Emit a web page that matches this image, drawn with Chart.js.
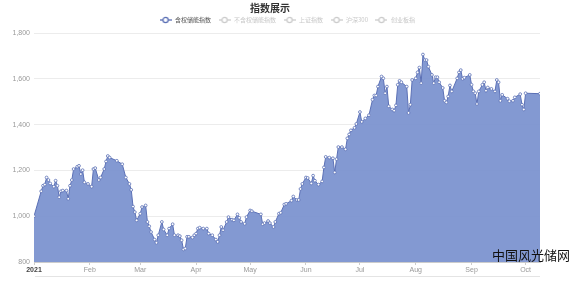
<!DOCTYPE html>
<html>
<head>
<meta charset="utf-8">
<script src="https://cdn.jsdelivr.net/npm/chart.js@4.4.1/dist/chart.umd.min.js"></script>
<style>
    html, body { margin: 0; padding: 0; background: #fff; }
    #wrap { position: relative; width: 578px; height: 283px; }
    #mark {
        position: absolute; left: 492px; top: 245px;
        font: 13px "Noto Sans CJK SC", sans-serif; color: #111;
    }
</style>
</head>
<body>
<div id="wrap">
    <canvas id="chart" width="578" height="283"></canvas>
    <div id="mark">中国风光储网</div>
</div>
<script>
const seriesNames = ["含权储能指数", "不含权储能指数", "上证指数", "沪深300", "创业板指"];

// days since 2021-01-01
const days = [
    0, 4, 5, 6, 7, 8, 9, 11, 12, 13, 14, 15, 16, 18, 19, 20, 21, 22, 24, 25,
    26, 27, 28, 30, 32, 33, 34, 36, 37, 39, 40, 41, 42, 46, 49, 51, 53, 54, 55, 56,
    57, 59, 60, 62, 63, 64, 65, 67, 68, 69, 71, 72, 74, 75, 77, 78, 80, 81, 82, 83,
    84, 85, 86, 88, 89, 90, 91, 92, 94, 96, 97, 99, 101, 102, 103, 104, 105, 107, 108, 110,
    111, 113, 114, 115, 117, 118, 120, 121, 126, 127, 128, 130, 131, 133, 134, 136, 137, 139, 140, 143,
    144, 146, 147, 148, 149, 151, 152, 154, 155, 156, 158, 160, 161, 162, 164, 166, 167, 168, 169, 171,
    173, 174, 175, 176, 178, 179, 181, 182, 184, 186, 188, 189, 190, 191, 193, 194, 195, 196, 197, 199,
    200, 201, 202, 203, 204, 207, 208, 209, 210, 212, 213, 214, 215, 216, 217, 218, 219, 221, 222, 223,
    224, 225, 227, 228, 229, 230, 231, 232, 235, 236, 237, 238, 239, 242, 243, 244, 245, 246, 247, 249,
    250, 251, 252, 254, 256, 257, 258, 259, 260, 263, 264, 266, 267, 270, 271, 272, 273, 281
];

const indexValues = [
    1000, 1109, 1133, 1138, 1169, 1158, 1143, 1129, 1155, 1133, 1083, 1109, 1112, 1112, 1076, 1133, 1158, 1206, 1216, 1220,
    1184, 1201, 1148, 1141, 1129, 1206, 1210, 1158, 1169, 1206, 1239, 1263, 1256, 1242, 1227, 1169, 1141, 1115, 1042, 1018,
    982, 1011, 1040, 1047, 975, 956, 931, 898, 884, 917, 975, 942, 917, 946, 965, 917, 917, 913, 895, 855,
    859, 910, 910, 907, 917, 924, 946, 950, 946, 946, 924, 917, 898, 888, 917, 953, 939, 975, 996, 985,
    982, 1008, 993, 975, 967, 996, 1025, 1022, 1008, 965, 970, 979, 970, 953, 975, 1011, 1015, 1051, 1054, 1068,
    1086, 1071, 1071, 1119, 1141, 1169, 1167, 1143, 1177, 1155, 1138, 1152, 1213, 1259, 1256, 1253, 1191, 1249, 1302, 1302,
    1292, 1340, 1357, 1375, 1386, 1403, 1455, 1412, 1427, 1441, 1509, 1527, 1527, 1566, 1610, 1602, 1537, 1566, 1480, 1466,
    1461, 1484, 1574, 1591, 1585, 1566, 1451, 1487, 1595, 1602, 1628, 1649, 1581, 1706, 1682, 1682, 1653, 1617, 1581, 1607,
    1607, 1585, 1560, 1504, 1497, 1523, 1571, 1545, 1602, 1628, 1638, 1600, 1605, 1617, 1574, 1545, 1537, 1490, 1545, 1574,
    1585, 1548, 1562, 1556, 1545, 1595, 1585, 1504, 1530, 1513, 1502, 1504, 1519, 1533, 1487, 1466, 1537, 1535
];

const monthStarts = [0, 31, 59, 90, 120, 151, 181, 212, 243, 273];
const monthLabels = ["2021", "Feb", "Mar", "Apr", "May", "Jun", "Jul", "Aug", "Sep", "Oct"];
const yTicks = [800, 1000, 1200, 1400, 1600, 1800];

const lineColor = "#5b70b5";
const areaColor = "rgba(124, 148, 208, 0.95)";

function legendIcon(color) {
    const c = document.createElement("canvas");
    c.width = 12;
    c.height = 8;
    const g = c.getContext("2d");
    g.strokeStyle = color;
    g.lineWidth = 1.3;
    g.beginPath();
    g.moveTo(0, 4);
    g.lineTo(12, 4);
    g.stroke();
    g.fillStyle = "#fff";
    g.beginPath();
    g.arc(6, 4, 2.6, 0, Math.PI * 2);
    g.fill();
    g.stroke();
    return c;
}

const activeIcon = legendIcon(lineColor);
const idleIcon = legendIcon("#ccc");

const datasets = seriesNames.map((name, i) => {
    if (i === 0) {
        return {
            label: name,
            data: days.map((d, k) => ({ x: d, y: indexValues[k] })),
            borderColor: lineColor,
            backgroundColor: areaColor,
            borderWidth: 1,
            fill: "start",
            tension: 0,
            pointRadius: 1.4,
            pointBorderWidth: 0.8,
            pointBackgroundColor: "#fff",
            pointBorderColor: lineColor
        };
    }
    return { label: name, data: [], hidden: true };
});

// legend sits a bit right of centre in the original, plus the faint slider line at the bottom
const extras = {
    id: "extras",
    afterLayout(chart) {
        chart.legend.left += 17;
        chart.legend.right += 17;
    },
    afterDraw(chart) {
        const ctx = chart.ctx;
        const area = chart.chartArea;
        ctx.save();
        ctx.strokeStyle = "#e4e4e4";
        ctx.lineWidth = 1;
        ctx.beginPath();
        ctx.moveTo(area.left + 1, 276.5);
        ctx.lineTo(area.right, 276.5);
        ctx.stroke();
        ctx.restore();
    }
};

new Chart(document.getElementById("chart"), {
    type: "line",
    data: { datasets: datasets },
    plugins: [extras],
    options: {
        responsive: false,
        animation: false,
        layout: { padding: { left: 0, right: 38, top: 2, bottom: 0 } },
        plugins: {
            title: {
                display: true,
                text: "指数展示",
                color: "#333",
                font: { size: 10, weight: "bold", family: "'Noto Sans CJK SC', sans-serif" },
                padding: { top: 0, bottom: -4 }
            },
            legend: {
                display: true,
                labels: {
                    usePointStyle: true,
                    pointStyleWidth: 13,
                    padding: 7,
                    font: { size: 6, family: "'Noto Sans CJK SC', sans-serif" },
                    generateLabels: chart => chart.data.datasets.map((ds, i) => ({
                        text: ds.label,
                        pointStyle: i === 0 ? activeIcon : idleIcon,
                        fontColor: i === 0 ? "#555" : "#c8c8c8",
                        hidden: false,
                        datasetIndex: i,
                        lineWidth: 0
                    }))
                },
                onClick: () => {}
            },
            tooltip: { enabled: false }
        },
        scales: {
            x: {
                type: "linear",
                min: 0,
                max: 281,
                afterBuildTicks: scale => {
                    scale.ticks = monthStarts.map(v => ({ value: v }));
                },
                afterFit: scale => { scale.height = 21; },
                ticks: {
                    autoSkip: false,
                    maxRotation: 0,
                    padding: 1,
                    callback: value => monthLabels[monthStarts.indexOf(value)],
                    color: ctx => ctx.index === 0 ? "#444" : "#999",
                    font: ctx => ({ size: 7, weight: ctx.index === 0 ? "bold" : "normal" })
                },
                grid: { drawOnChartArea: false, drawTicks: true, tickLength: 3, color: "#ccc" },
                border: { color: "#ccc" }
            },
            y: {
                min: 800,
                max: 1800,
                afterBuildTicks: scale => {
                    scale.ticks = yTicks.map(v => ({ value: v }));
                },
                afterFit: scale => { scale.width = 34; },
                ticks: {
                    padding: 4,
                    color: "#999",
                    font: { size: 7 }
                },
                grid: { color: "#ececec", drawTicks: false },
                border: { display: false }
            }
        }
    }
});
</script>
</body>
</html>
